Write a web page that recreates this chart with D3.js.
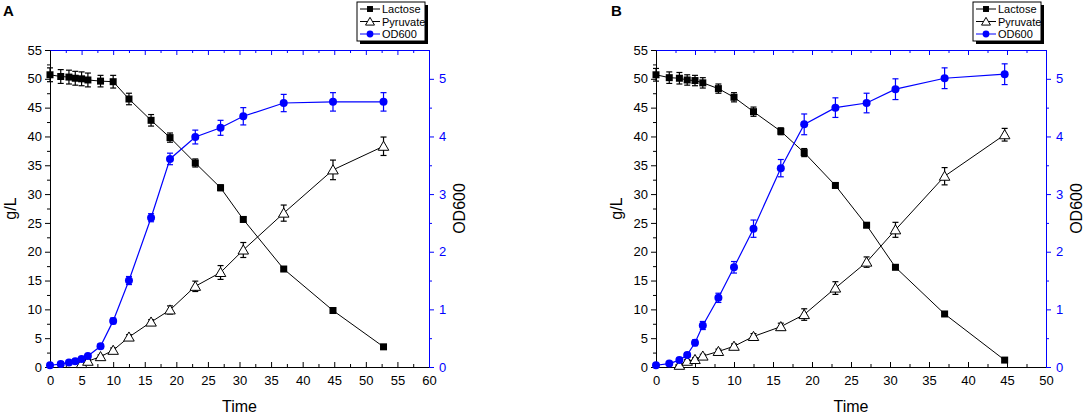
<!DOCTYPE html>
<html>
<head>
<meta charset="utf-8">
<script src="https://cdn.jsdelivr.net/npm/d3@7"></script>
<style>
  body { margin: 0; background: #fff; }
  text { font-family: "Liberation Sans", Arial, sans-serif; }
</style>
</head>
<body>
<div id="chart"></div>
<script>
/**
 * DATA
 * */
const timeA = [0, 1.7, 3, 4, 5, 6, 8, 10, 12.5, 16, 19, 23, 27, 30.6, 37, 44.8, 52.8];
const lactoseA = [50.7, 50.4, 50.3, 50.1, 50.0, 49.8, 49.6, 49.5, 46.5, 42.8, 39.8, 35.4, 31.1, 25.6, 17.0, 9.8, 3.5];
const lactoseErrA = [1.2, 1.2, 1.2, 1.2, 1.2, 1.2, 1.0, 1.1, 1.0, 1.0, 0.8, 0.7, 0.5, 0.4, 0.3, 0.3, 0.3];
const pyruvateA = [null, null, null, null, 0.6, 1.0, 1.8, 2.9, 5.2, 7.8, 9.9, 14.0, 16.4, 20.3, 26.7, 34.2, 38.3];
const pyruvateErrA = [0, 0, 0, 0, 0.2, 0.3, 0.3, 0.4, 0.4, 0.4, 0.7, 0.9, 1.2, 1.3, 1.4, 1.7, 1.6];
const odA = [0.03, 0.05, 0.08, 0.10, 0.14, 0.19, 0.36, 0.80, 1.50, 2.59, 3.61, 3.99, 4.15, 4.35, 4.58, 4.60, 4.60];
const odErrA = [0.02, 0.03, 0.03, 0.03, 0.03, 0.03, 0.04, 0.05, 0.07, 0.07, 0.10, 0.12, 0.13, 0.15, 0.15, 0.16, 0.16];

const timeB = [0, 1.7, 3, 4, 5, 6, 8, 10, 12.5, 16, 19, 23, 27, 30.7, 37, 44.7];
const lactoseB = [50.7, 50.2, 50.1, 49.8, 49.7, 49.3, 48.3, 46.8, 44.3, 40.9, 37.2, 31.5, 24.6, 17.3, 9.2, 1.2];
const lactoseErrB = [1.1, 1.0, 1.0, 0.9, 0.9, 0.9, 0.8, 0.8, 0.8, 0.6, 0.7, 0.4, 0.4, 0.3, 0.3, 0.3];
const pyruvateB = [null, null, 0.3, 1.0, 1.3, 1.9, 2.7, 3.6, 5.3, 7.0, 9.1, 13.7, 18.2, 23.8, 33.1, 40.3];
const pyruvateErrB = [0, 0, 0.2, 0.3, 0.3, 0.3, 0.4, 0.4, 0.5, 0.6, 1.0, 1.1, 0.9, 1.3, 1.5, 1.1];
const odB = [0.03, 0.06, 0.12, 0.21, 0.42, 0.72, 1.20, 1.73, 2.40, 3.45, 4.21, 4.50, 4.58, 4.82, 5.01, 5.08];
const odErrB = [0.02, 0.03, 0.03, 0.04, 0.05, 0.07, 0.08, 0.10, 0.15, 0.15, 0.18, 0.17, 0.17, 0.18, 0.18, 0.18];

const legendLabels = ["Lactose", "Pyruvate", "OD600"];

/**
 * CONSTANTS
 * */
const width = 1084, height = 416;
const BLUE = "#0000ff";
const plotTop = 50, plotBottom = 367;

const svg = d3.select("#chart").append("svg")
  .attr("width", width)
  .attr("height", height);

drawPanel({
  letter: "A", letterX: 3,
  left: 50, right: 429, xMax: 60,
  time: timeA,
  lactose: lactoseA, lactoseErr: lactoseErrA,
  pyruvate: pyruvateA, pyruvateErr: pyruvateErrA,
  od: odA, odErr: odErrA,
  legendX: 357
});

drawPanel({
  letter: "B", letterX: 611,
  left: 656, right: 1046, xMax: 50,
  time: timeB,
  lactose: lactoseB, lactoseErr: lactoseErrB,
  pyruvate: pyruvateB, pyruvateErr: pyruvateErrB,
  od: odB, odErr: odErrB,
  legendX: 973
});

function drawPanel(p) {
  const g = svg.append("g");

  const x = d3.scaleLinear().domain([0, p.xMax]).range([p.left, p.right]);
  const y = d3.scaleLinear().domain([0, 55]).range([plotBottom, plotTop]);
  const y2 = d3.scaleLinear().domain([0, 5.5]).range([plotBottom, plotTop]);

  const majorX = d3.range(0, p.xMax + 0.01, 5);
  const minorX = d3.range(2.5, p.xMax, 5);

  // bottom axis (ticks inward)
  const bx = g.append("g").attr("transform", `translate(0,${plotBottom})`)
    .call(d3.axisBottom(x).tickValues(majorX).tickSize(-5).tickPadding(9).tickSizeOuter(0));
  g.append("g").attr("transform", `translate(0,${plotBottom})`)
    .call(d3.axisBottom(x).tickValues(minorX).tickSize(-3).tickFormat("").tickSizeOuter(0))
    .select(".domain").remove();
  bx.selectAll("text").attr("font-size", 13).attr("fill", "#000");

  // top axis (blue, ticks inward)
  g.append("g").attr("transform", `translate(0,${plotTop})`)
    .call(d3.axisTop(x).tickValues(majorX).tickSize(-5).tickFormat("").tickSizeOuter(0))
    .call(a => a.selectAll("line,path").attr("stroke", BLUE));
  g.append("g").attr("transform", `translate(0,${plotTop})`)
    .call(d3.axisTop(x).tickValues(minorX).tickSize(-3).tickFormat("").tickSizeOuter(0))
    .call(a => a.select(".domain").remove())
    .call(a => a.selectAll("line").attr("stroke", BLUE));

  // left axis
  const ly = g.append("g").attr("transform", `translate(${p.left},0)`)
    .call(d3.axisLeft(y).tickValues(d3.range(0, 56, 5)).tickSize(5).tickPadding(3).tickSizeOuter(0));
  g.append("g").attr("transform", `translate(${p.left},0)`)
    .call(d3.axisLeft(y).tickValues(d3.range(2.5, 55, 5)).tickSize(3).tickFormat("").tickSizeOuter(0))
    .select(".domain").remove();
  ly.selectAll("text").attr("font-size", 13).attr("fill", "#000");

  // right axis (blue)
  const ry = g.append("g").attr("transform", `translate(${p.right},0)`)
    .call(d3.axisRight(y2).tickValues(d3.range(0, 6, 1)).tickFormat(d3.format("d"))
      .tickSize(5).tickPadding(5).tickSizeOuter(0))
    .call(a => a.selectAll("line,path").attr("stroke", BLUE));
  g.append("g").attr("transform", `translate(${p.right},0)`)
    .call(d3.axisRight(y2).tickValues(d3.range(0.5, 5.5, 1)).tickSize(3).tickFormat("").tickSizeOuter(0))
    .call(a => a.select(".domain").remove())
    .call(a => a.selectAll("line").attr("stroke", BLUE));
  ry.selectAll("text").attr("font-size", 13).attr("fill", BLUE);

  // axis titles
  g.append("text").attr("x", (p.left + p.right) / 2).attr("y", 412)
    .attr("text-anchor", "middle").attr("font-size", 16).text("Time");
  g.append("text")
    .attr("transform", `translate(${p.left - 34},${(plotTop + plotBottom) / 2}) rotate(-90)`)
    .attr("text-anchor", "middle").attr("font-size", 16).text("g/L");
  g.append("text")
    .attr("transform", `translate(${p.right + 36},${(plotTop + plotBottom) / 2}) rotate(-90)`)
    .attr("text-anchor", "middle").attr("font-size", 16).text("OD600");

  g.append("text").attr("x", p.letterX).attr("y", 16)
    .attr("font-size", 15).attr("font-weight", "bold").text(p.letter);

  // series
  const series = [
    { vals: p.lactose, err: p.lactoseErr, ys: y, color: "#000", shape: "square" },
    { vals: p.pyruvate, err: p.pyruvateErr, ys: y, color: "#000", shape: "triangle" },
    { vals: p.od, err: p.odErr, ys: y2, color: BLUE, shape: "circle" }
  ];

  series.forEach(s => {
    const pts = p.time.map((t, i) => ({ t, v: s.vals[i], e: s.err[i] }))
      .filter(d => d.v !== null);

    const line = d3.line().x(d => x(d.t)).y(d => s.ys(d.v));
    g.append("path").datum(pts)
      .attr("d", line)
      .attr("fill", "none")
      .attr("stroke", s.color)
      .attr("stroke-width", s.shape === "circle" ? 1.2 : 1);

    const eb = g.append("g").selectAll("g").data(pts.filter(d => d.e > 0)).join("g")
      .attr("stroke", s.color).attr("stroke-width", 1.2);
    eb.append("line")
      .attr("x1", d => x(d.t)).attr("x2", d => x(d.t))
      .attr("y1", d => s.ys(d.v - d.e)).attr("y2", d => s.ys(d.v + d.e));
    eb.append("line")
      .attr("x1", d => x(d.t) - 3).attr("x2", d => x(d.t) + 3)
      .attr("y1", d => s.ys(d.v + d.e)).attr("y2", d => s.ys(d.v + d.e));
    eb.append("line")
      .attr("x1", d => x(d.t) - 3).attr("x2", d => x(d.t) + 3)
      .attr("y1", d => s.ys(d.v - d.e)).attr("y2", d => s.ys(d.v - d.e));

    drawMarkers(g.append("g"), pts, s.shape, d => x(d.t), d => s.ys(d.v));
  });

  // legend
  const lg = g.append("g").attr("transform", `translate(${p.legendX},2)`);
  lg.append("rect").attr("x", 3).attr("y", 3).attr("width", 68).attr("height", 39).attr("fill", "#000");
  lg.append("rect").attr("x", 0).attr("y", 0).attr("width", 68).attr("height", 39)
    .attr("fill", "#fff").attr("stroke", "#000").attr("stroke-width", 1);
  const shapes = ["square", "triangle", "circle"];
  const colors = ["#000", "#000", BLUE];
  legendLabels.forEach((lab, i) => {
    const cy = 7 + i * 12.5;
    lg.append("line").attr("x1", 3).attr("x2", 23).attr("y1", cy).attr("y2", cy)
      .attr("stroke", colors[i]).attr("stroke-width", 1);
    drawMarkers(lg.append("g"), [{}], shapes[i], () => 13, () => cy, 0.85);
    lg.append("text").attr("x", 25).attr("y", cy + 4)
      .attr("font-size", 11).attr("fill", "#000").text(lab);
  });
}

function drawMarkers(sel, pts, shape, fx, fy, k = 1) {
  if (shape === "square") {
    const s = 7 * k;
    sel.selectAll("rect").data(pts).join("rect")
      .attr("x", d => fx(d) - s / 2).attr("y", d => fy(d) - s / 2)
      .attr("width", s).attr("height", s).attr("fill", "#000");
  } else if (shape === "triangle") {
    const sym = d3.symbol().type(d3.symbolTriangle).size(48 * k * k);
    sel.selectAll("path").data(pts).join("path")
      .attr("transform", d => `translate(${fx(d)},${fy(d) + 1})`)
      .attr("d", sym).attr("fill", "#fff").attr("stroke", "#000").attr("stroke-width", 1);
  } else {
    sel.selectAll("circle").data(pts).join("circle")
      .attr("cx", fx).attr("cy", fy).attr("r", 4 * k).attr("fill", BLUE);
  }
}
</script>
</body>
</html>
